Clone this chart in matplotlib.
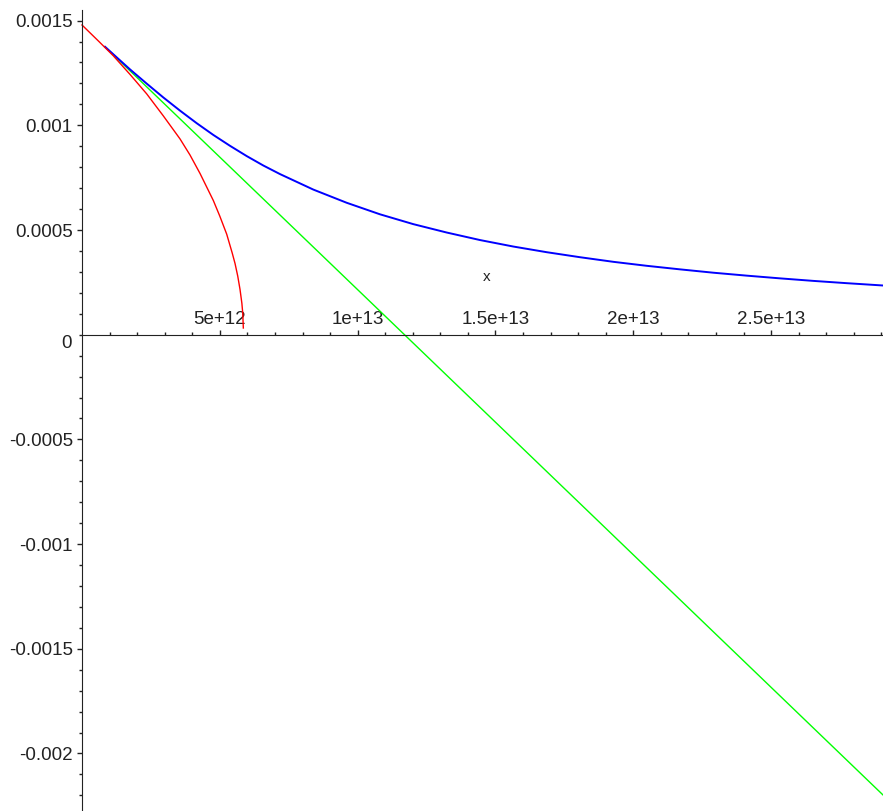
import numpy as np
import matplotlib
matplotlib.use('Agg')
import matplotlib.pyplot as plt
from matplotlib.ticker import FixedLocator, FuncFormatter

plt.rcParams['font.family'] = ['Liberation Sans', 'DejaVu Sans']

# curve samples
blue_x = [0.835e12, 1.742e12, 2.348e12, 2.950e12, 3.556e12, 4.162e12, 4.764e12,
          5.370e12, 5.976e12, 6.578e12, 7.184e12, 8.393e12, 9.604e12, 10.81e12,
          12.02e12, 13.23e12, 14.44e12, 15.65e12, 16.86e12, 18.07e12, 19.28e12,
          20.49e12, 21.70e12, 22.91e12, 24.12e12, 25.33e12, 26.53e12, 27.75e12,
          29.06e12]
blue_y = [1.375e-3, 1.267e-3, 1.199e-3, 1.133e-3, 1.070e-3, 1.010e-3, 0.954e-3,
          0.902e-3, 0.853e-3, 0.808e-3, 0.767e-3, 0.693e-3, 0.630e-3, 0.575e-3,
          0.528e-3, 0.488e-3, 0.452e-3, 0.421e-3, 0.394e-3, 0.370e-3, 0.348e-3,
          0.329e-3, 0.312e-3, 0.296e-3, 0.282e-3, 0.269e-3, 0.257e-3, 0.246e-3,
          0.235e-3]

red_x = [0.0, 0.6e12, 1.136e12, 1.742e12, 2.348e12, 2.950e12, 3.556e12, 3.919e12,
         4.282e12, 4.764e12, 5.0e12, 5.250e12, 5.45e12, 5.552e12, 5.65e12,
         5.733e12, 5.80e12, 5.831e12, 5.853e12]
red_y = [1.479e-3, 1.402e-3, 1.332e-3, 1.243e-3, 1.150e-3, 1.045e-3, 0.935e-3,
         0.858e-3, 0.770e-3, 0.641e-3, 0.566e-3, 0.480e-3, 0.390e-3, 0.340e-3,
         0.280e-3, 0.216e-3, 0.150e-3, 0.104e-3, 0.032e-3]

green_x = [0.835e12, 11.70e12, 29.06e12]
green_y = [1.375e-3, 0.0, -2.198e-3]

x_major = [5e12, 1e13, 1.5e13, 2e13, 2.5e13]
y_major = [-0.002, -0.0015, -0.001, -0.0005, 0.0005, 0.001, 0.0015]

fig = plt.figure(figsize=(8.83, 8.11), dpi=100)
ax = fig.add_axes([0, 0, 1, 1])

ax.plot(green_x, green_y, color='#00ff00', lw=1.0)
ax.plot(blue_x, blue_y, color='#0000ff', lw=1.4)
ax.plot(red_x, red_y, color='#ff0000', lw=1.0)

ax.set_xlim(-2.975e12, 29.06e12)
ax.set_ylim(-0.0022746, 0.0015984)

for s in ['right', 'bottom']:
    ax.spines[s].set_visible(False)
ax.spines['left'].set_position(('data', 0))
ax.spines['top'].set_position(('data', 0))
ax.spines['left'].set_bounds(-0.0022746, 0.00155)
ax.spines['top'].set_bounds(0, 29.06e12)
ax.spines['left'].set_color('#222222')
ax.spines['top'].set_color('#222222')

ax.xaxis.set_ticks_position('top')
ax.xaxis.set_major_locator(FixedLocator(x_major))
ax.xaxis.set_minor_locator(FixedLocator([i * 1e12 for i in range(1, 30)]))
ax.xaxis.set_major_formatter(FuncFormatter(lambda v, p: '%g' % v))

ax.yaxis.set_major_locator(FixedLocator(y_major))
ax.yaxis.set_minor_locator(FixedLocator([i * 1e-4 for i in range(-22, 16)]))
ax.yaxis.set_major_formatter(FuncFormatter(lambda v, p: '%g' % round(v, 6)))

ax.tick_params(which='major', length=3.6, width=1, color='#222222',
               labelsize=13.5, labelcolor='#222222', direction='out')
ax.tick_params(which='minor', length=2.2, width=1, color='#222222', direction='out')
ax.tick_params(axis='x', pad=1)
ax.tick_params(axis='y', pad=3)

ax.annotate('0', xy=(0, 0), xytext=(-10, -9), textcoords='offset pixels',
            ha='right', va='center', fontsize=13.5, color='#222222')
ax.text(14.68e12, 0.000274, 'x', ha='center', va='center', fontsize=11,
        color='#222222')

fig.savefig('out.png', dpi=100)
